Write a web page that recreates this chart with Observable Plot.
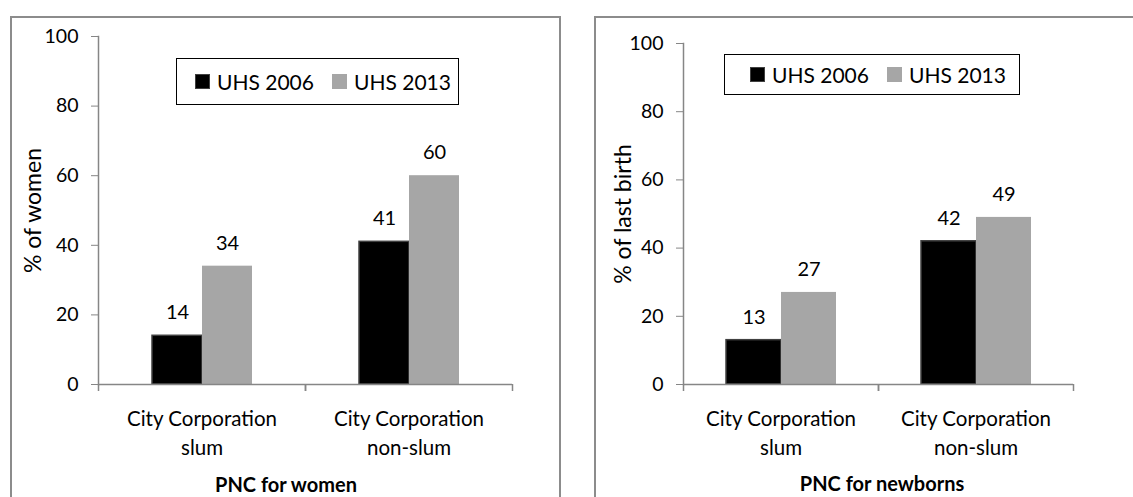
<!DOCTYPE html>
<html><head><meta charset="utf-8">
<script src="https://cdn.jsdelivr.net/npm/d3@7"></script>
<script src="https://cdn.jsdelivr.net/npm/@observablehq/plot@0.6"></script>
<style>
body{margin:0;background:#fff;}
#root{position:relative;width:1133px;height:497px;overflow:hidden;font-family:Lato,sans-serif;color:#000;}
.panel{position:absolute;top:16px;border:2px solid #8c8c8c;box-sizing:border-box;height:520px;}
.chart{position:absolute;top:0;}
.legend{position:absolute;border:1.5px solid #000;box-sizing:border-box;display:flex;align-items:center;font-size:21px;background:#fff;white-space:nowrap}
.sw{display:inline-block;width:15px;height:15px;margin-right:7px;box-sizing:border-box}
.item{display:flex;align-items:center}
.title{position:absolute;font-weight:bold;font-size:20px;line-height:1;transform:translate(-50%,-50%);white-space:nowrap}
</style></head><body><div id="root"></div>
<script>
const categories = ["City Corporation slum", "City Corporation non-slum"];
const categoryLabels = ["City Corporation\nslum", "City Corporation\nnon-slum"];
const series = ["UHS 2006", "UHS 2013"];
const womenValues2006 = [14, 41];
const womenValues2013 = [34, 60];
const newbornValues2006 = [13, 42];
const newbornValues2013 = [27, 49];
const yTicks = [0, 20, 40, 60, 80, 100];
const panelTitles = ["PNC for women", "PNC for newborns"];
const yLabels = ["% of women", "% of last birth"];
const seriesColors = ["#000000", "#a6a6a6"];

const root = document.getElementById("root");
const AXIS = "#868686";

function makePanel(o) {
  const rows = [];
  categories.forEach((c, i) => {
    rows.push({cat: c, series: series[0], value: o.v06[i]});
    rows.push({cat: c, series: series[1], value: o.v13[i]});
  });
  const band = (o.width - o.marginLeft - o.marginRight) / categories.length;
  const chart = Plot.plot({
    width: o.width, height: 497,
    marginLeft: o.marginLeft, marginRight: o.marginRight, marginTop: o.marginTop, marginBottom: 113,
    style: {fontFamily: "Lato, sans-serif", fontSize: "19.5px", color: "#000", background: "transparent", overflow: "visible"},
    fx: {domain: categories, padding: 0, label: null},
    x: {domain: series, paddingInner: 0, paddingOuter: o.padOuter, axis: null},
    y: {domain: [0, 100], axis: null},
    color: {domain: series, range: seriesColors},
    marks: [
      Plot.barY(rows.filter(d => d.series === series[0]), {fx: "cat", x: "series", y: "value", fill: "series", stroke: "#404040", strokeWidth: 1.5}),
      Plot.barY(rows.filter(d => d.series === series[1]), {fx: "cat", x: "series", y: "value", fill: "series"}),
      Plot.ruleY([0], {stroke: AXIS, strokeWidth: 1.5}),
      Plot.frame({anchor: "left", facet: "super", stroke: AXIS, strokeWidth: 1.5}),
      Plot.axisY({ticks: yTicks, tickSize: 7, tickPadding: 13, stroke: AXIS, fill: "#000", label: null}),
      Plot.text([o.yLabel], {frameAnchor: "left", textAnchor: "middle", lineAnchor: "middle", facet: "super", rotate: -90, dx: o.labelDx, fontSize: 23, fill: "#000"}),
      Plot.axisFx({anchor: "bottom", tickSize: 0, tickPadding: 21, lineHeight: 1.42, fontSize: 20.5, fill: "#000", label: null, tickFormat: d => categoryLabels[categories.indexOf(d)]}),
      Plot.axisFx({anchor: "bottom", tickSize: 7, fill: "none", stroke: AXIS, strokeWidth: 1.5, label: null, dx: -band / 2}),
      Plot.axisFx({anchor: "bottom", tickSize: 7, fill: "none", stroke: AXIS, strokeWidth: 1.5, label: null, dx: band / 2}),
      Plot.text(rows, {fx: "cat", x: "series", y: "value", text: "value", dy: -23, fontSize: 20, fill: "#000"})
    ]
  });
  chart.classList.add("chart");
  chart.style.left = o.svgLeft + "px";
  root.appendChild(chart);

  const lg = document.createElement("div");
  lg.className = "legend";
  Object.assign(lg.style, {left: o.lg[0] + "px", top: o.lg[1] + "px", width: o.lg[2] + "px", height: o.lg[3] + "px", paddingLeft: o.lgPad + "px"});
  series.forEach((s, i) => {
    const it = document.createElement("span");
    it.className = "item";
    if (i > 0) it.style.marginLeft = "18px";
    const sw = document.createElement("span");
    sw.className = "sw";
    sw.style.background = seriesColors[i];
    if (i === 0) sw.style.border = "1px solid #404040";
    it.appendChild(sw);
    it.appendChild(document.createTextNode(s));
    lg.appendChild(it);
  });
  root.appendChild(lg);

  const t = document.createElement("div");
  t.className = "title";
  t.textContent = o.title;
  t.style.left = o.titlePos[0] + "px";
  t.style.top = o.titlePos[1] + "px";
  root.appendChild(t);
}

// panel frames
[[10, 551], [594, 600]].forEach(([l, w]) => {
  const p = document.createElement("div");
  p.className = "panel";
  p.style.left = l + "px";
  p.style.width = w + "px";
  root.appendChild(p);
});

makePanel({v06: womenValues2006, v13: womenValues2013, yLabel: yLabels[0], title: panelTitles[0],
  svgLeft: 0, width: 560, marginLeft: 98, marginRight: 48, marginTop: 36, padOuter: 1.03, labelDx: -65,
  lg: [176, 58, 283, 47], lgPad: 18, titlePos: [286, 484]});
makePanel({v06: newbornValues2006, v13: newbornValues2013, yLabel: yLabels[1], title: panelTitles[1],
  svgLeft: 590, width: 543, marginLeft: 93, marginRight: 60, marginTop: 43, padOuter: 0.77, labelDx: -60,
  lg: [724, 54, 296, 41], lgPad: 25, titlePos: [882, 483]});
</script></body></html>
